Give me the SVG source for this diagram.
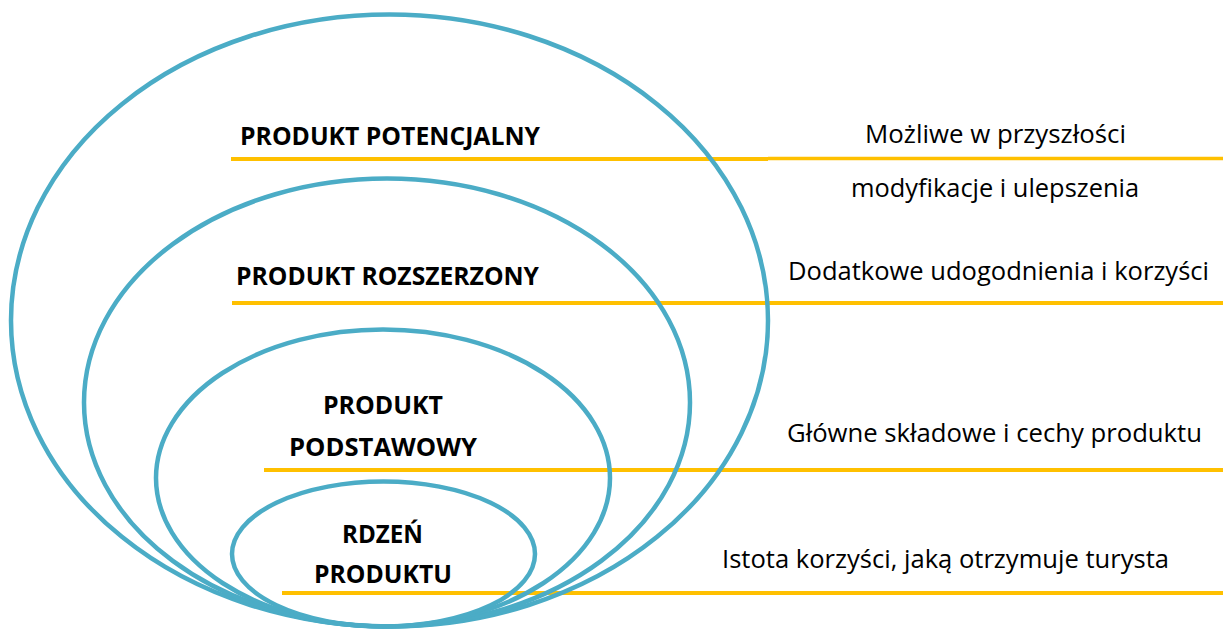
<svg xmlns="http://www.w3.org/2000/svg" width="1223" height="630" viewBox="0 0 1223 630">
<style>
.ring{fill:none;stroke:#4BACC6;stroke-width:4.5}
.bar{stroke:#FFC000;stroke-width:4}
.t{font-family:"Open Sans","Liberation Sans",sans-serif;font-weight:700;font-size:25.5px;fill:#000}
.d{font-family:"Open Sans","Liberation Sans",sans-serif;font-size:26px;fill:#000}
</style>
<rect width="1223" height="630" fill="#fff"/>
<g id="connectors">
<line class="bar" x1="231" y1="159" x2="768" y2="159"/>
<line class="bar" x1="768" y1="158.5" x2="1223" y2="158.5" style="stroke-width:3.5"/>
<line class="bar" x1="232" y1="303" x2="1223" y2="303"/>
<line class="bar" x1="264" y1="470" x2="1223" y2="470"/>
<line class="bar" x1="282" y1="593" x2="1223" y2="593"/>
</g>
<g id="potencjalny">
<ellipse class="ring" cx="389.5" cy="320.5" rx="378.5" ry="306"/>
<text class="t" x="240" y="145" textLength="300" lengthAdjust="spacingAndGlyphs">PRODUKT POTENCJALNY</text>
<text class="d" x="865" y="143" textLength="261" lengthAdjust="spacingAndGlyphs">Możliwe w przyszłości</text>
<text class="d" x="851" y="197" textLength="288" lengthAdjust="spacingAndGlyphs">modyfikacje i ulepszenia</text>
</g>
<g id="rozszerzony">
<ellipse class="ring" cx="387" cy="402.5" rx="303" ry="224"/>
<text class="t" x="236" y="285" textLength="303" lengthAdjust="spacingAndGlyphs">PRODUKT ROZSZERZONY</text>
<text class="d" x="788" y="280" textLength="421" lengthAdjust="spacingAndGlyphs">Dodatkowe udogodnienia i korzyści</text>
</g>
<g id="podstawowy">
<ellipse class="ring" cx="383" cy="478" rx="227" ry="148.5"/>
<text class="t" x="323" y="414" textLength="120" lengthAdjust="spacingAndGlyphs">PRODUKT</text>
<text class="t" x="289" y="456" textLength="188" lengthAdjust="spacingAndGlyphs">PODSTAWOWY</text>
<text class="d" x="787" y="442" textLength="415" lengthAdjust="spacingAndGlyphs">Główne składowe i cechy produktu</text>
</g>
<g id="rdzen">
<ellipse class="ring" cx="383.5" cy="554" rx="151.5" ry="72.5"/>
<text class="t" x="342" y="543" textLength="81" lengthAdjust="spacingAndGlyphs">RDZEŃ</text>
<text class="t" x="314" y="583" textLength="138" lengthAdjust="spacingAndGlyphs">PRODUKTU</text>
<text class="d" x="722" y="568" textLength="447" lengthAdjust="spacingAndGlyphs">Istota korzyści, jaką otrzymuje turysta</text>
</g>
</svg>
